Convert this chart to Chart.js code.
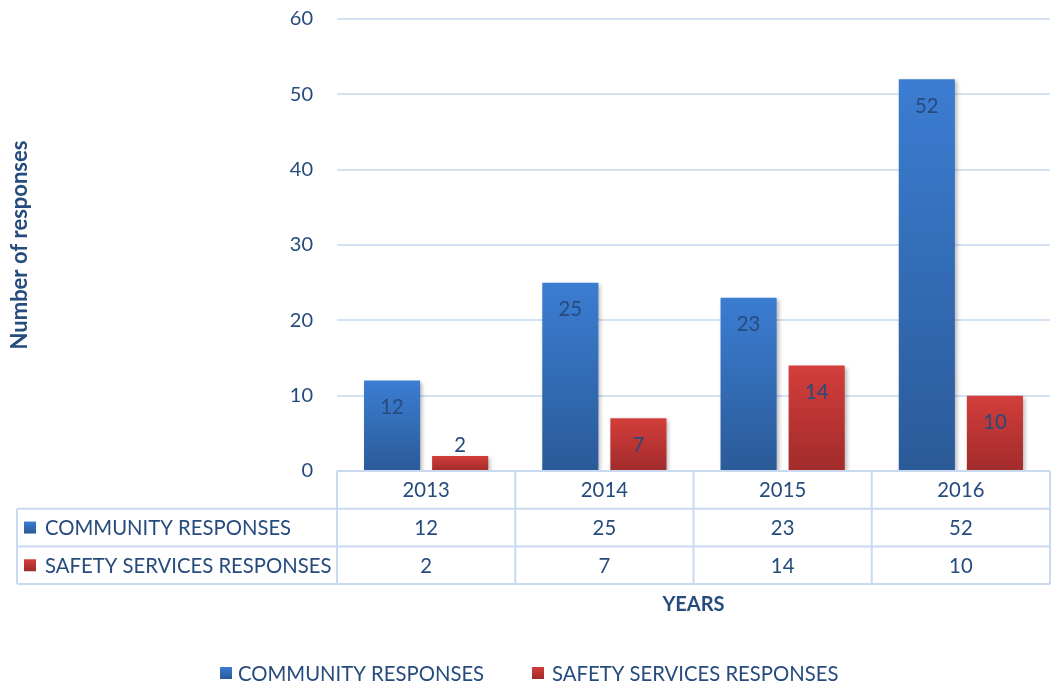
<!DOCTYPE html>
<html>
<head>
<meta charset="utf-8">
<style>
  html, body { margin: 0; padding: 0; background: #fff; }
  #wrap { width: 1057px; height: 688px; }
</style>
</head>
<body>
<div id="wrap"><canvas id="responsesChart" width="1057" height="688"></canvas></div>

<script src="https://cdn.jsdelivr.net/npm/chart.js@4.4.1/dist/chart.umd.min.js"></script>
<script>
// data
const years = ['2013', '2014', '2015', '2016'];
const communityResponses = [12, 25, 23, 52];
const safetyResponses = [2, 7, 14, 10];
const seriesNames = ['COMMUNITY RESPONSES', 'SAFETY SERVICES RESPONSES'];

const textColor = '#264b7d';
const gridColor = '#d5e2f2';
const tableLine = '#c9daf0';
const fontFamily = 'Lato, "Open Sans", sans-serif';
const textFont = '20.3px ' + fontFamily;

const blueTop = '#3b7dd2', blueBottom = '#2b5a98';
const redTop = '#d33e3b', redBottom = '#a12b2b';

function barGradient(top, bottom) {
    return function(context) {
        const chart = context.chart;
        if (!chart.chartArea || !chart.scales.y || context.raw == null) return top;
        const y = chart.scales.y;
        const y0 = y.getPixelForValue(context.raw);
        const y1 = y.getPixelForValue(0);
        if (!isFinite(y0) || !isFinite(y1) || y0 === y1) return top;
        const g = chart.ctx.createLinearGradient(0, y0, 0, y1);
        g.addColorStop(0, top);
        g.addColorStop(1, bottom);
        return g;
    };
}

function swatch(ctx, x, y, size, top, bottom) {
    const g = ctx.createLinearGradient(0, y, 0, y + size);
    g.addColorStop(0, top);
    g.addColorStop(1, bottom);
    ctx.fillStyle = g;
    ctx.fillRect(x, y, size, size);
}

// bar shadow + value labels
const barDecor = {
    id: 'barDecor',
    beforeDatasetsDraw(chart) {
        const ctx = chart.ctx;
        ctx.save();
        ctx.shadowColor = 'rgba(0,0,0,0.28)';
        ctx.shadowBlur = 4;
        ctx.shadowOffsetX = 2;
        ctx.shadowOffsetY = 2;
    },
    afterDatasetsDraw(chart) {
        const ctx = chart.ctx;
        ctx.restore();
        ctx.save();
        ctx.font = textFont;
        ctx.fillStyle = textColor;
        ctx.textAlign = 'center';
        ctx.textBaseline = 'middle';
        chart.data.datasets.forEach((ds, i) => {
            chart.getDatasetMeta(i).data.forEach((bar, j) => {
                const h = bar.base - bar.y;
                const ly = h > 40 ? bar.y + 27 : bar.y - 10;
                ctx.fillText(String(ds.data[j]), bar.x, ly);
            });
        });
        ctx.restore();
    }
};

// data table under the plot, axis title and legend
const dataTable = {
    id: 'dataTable',
    afterDraw(chart) {
        const ctx = chart.ctx;
        const area = chart.chartArea;
        const x = chart.scales.x;
        const rowH = 37.7;
        const top = area.bottom;
        const leftX = 17;
        const cw = (area.right - area.left) / years.length;

        ctx.save();
        ctx.strokeStyle = tableLine;
        ctx.lineWidth = 2;
        ctx.beginPath();
        // horizontal lines
        ctx.moveTo(area.left, top); ctx.lineTo(area.right, top);
        for (let r = 1; r <= 3; r++) {
            ctx.moveTo(leftX, top + r * rowH); ctx.lineTo(area.right, top + r * rowH);
        }
        // vertical lines
        for (let c = 0; c <= years.length; c++) {
            const vx = area.left + c * cw;
            ctx.moveTo(vx, top); ctx.lineTo(vx, top + 3 * rowH);
        }
        ctx.moveTo(leftX, top + rowH); ctx.lineTo(leftX, top + 3 * rowH);
        ctx.stroke();

        ctx.font = textFont;
        ctx.fillStyle = textColor;
        ctx.textBaseline = 'middle';
        ctx.textAlign = 'center';
        const rows = [years, communityResponses, safetyResponses];
        rows.forEach((vals, r) => {
            vals.forEach((v, c) => {
                ctx.fillText(String(v), x.getPixelForValue(c), top + r * rowH + rowH / 2 + 1);
            });
        });

        // row headers
        ctx.textAlign = 'left';
        swatch(ctx, 24, top + rowH + rowH / 2 - 6, 12, blueTop, blueBottom);
        swatch(ctx, 24, top + 2 * rowH + rowH / 2 - 6, 12, redTop, redBottom);
        ctx.fillStyle = textColor;
        ctx.fillText(seriesNames[0], 45, top + rowH + rowH / 2 + 1);
        ctx.fillText(seriesNames[1], 45, top + 2 * rowH + rowH / 2 + 1);

        // x axis title
        ctx.font = 'bold 20px ' + fontFamily;
        ctx.textAlign = 'center';
        ctx.fillText('YEARS', (area.left + area.right) / 2, 605);

        // legend
        ctx.font = textFont;
        ctx.textAlign = 'left';
        swatch(ctx, 220, 667, 12, blueTop, blueBottom);
        ctx.fillStyle = textColor;
        ctx.fillText(seriesNames[0], 238, 674);
        swatch(ctx, 532, 667, 12, redTop, redBottom);
        ctx.fillStyle = textColor;
        ctx.fillText(seriesNames[1], 552, 674);
        ctx.restore();
    }
};

const ctx = document.getElementById('responsesChart').getContext('2d');
new Chart(ctx, {
    type: 'bar',
    data: {
        labels: years,
        datasets: [
            {
                label: seriesNames[0],
                data: communityResponses,
                backgroundColor: barGradient(blueTop, blueBottom),
                categoryPercentage: 0.764,
                barPercentage: 0.824
            },
            {
                label: seriesNames[1],
                data: safetyResponses,
                backgroundColor: barGradient(redTop, redBottom),
                categoryPercentage: 0.764,
                barPercentage: 0.824
            }
        ]
    },
    options: {
        responsive: false,
        animation: false,
        layout: {
            padding: { top: 19, right: 7, bottom: 217, left: 0 }
        },
        plugins: {
            legend: { display: false },
            tooltip: { enabled: false }
        },
        scales: {
            x: {
                display: false
            },
            y: {
                min: 0,
                max: 60,
                ticks: {
                    stepSize: 10,
                    padding: 24,
                    color: textColor,
                    font: { family: fontFamily, size: 20 }
                },
                grid: {
                    color: gridColor,
                    lineWidth: 2,
                    drawTicks: false
                },
                border: { display: false },
                title: {
                    display: true,
                    text: 'Number of responses',
                    color: textColor,
                    font: { family: fontFamily, size: 22, weight: 'bold' },
                    padding: { top: 7, bottom: 0 }
                },
                afterFit(scale) {
                    scale.width = 337;
                    scale.paddingTop = 0;
                    scale.paddingBottom = 0;
                }
            }
        }
    },
    plugins: [barDecor, dataTable]
});
</script>
</body>
</html>
